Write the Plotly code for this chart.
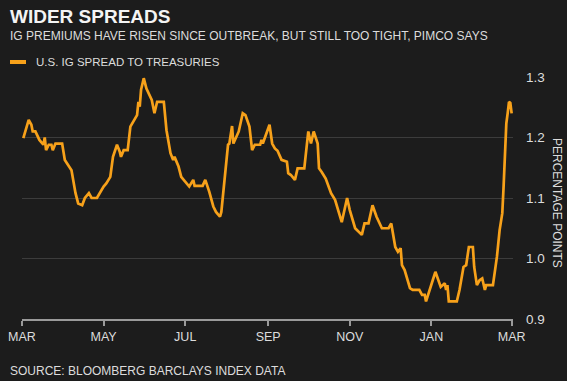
import pandas as pd
import plotly.graph_objects as go

# ---- data ----
start_date = "2019-03-01"
day_offsets = [1, 5, 7, 8, 10, 13, 16, 17, 18, 20, 22, 23, 25, 30, 32, 35, 37, 40, 42, 45,
               47, 50, 52, 56, 58, 61, 63, 66, 68, 71, 73, 74, 76, 79, 81, 83, 86, 87, 88, 89,
               91, 93, 94, 97, 99, 101, 106, 108, 111, 113, 114, 117, 119, 123, 125, 128, 129, 135, 137, 140,
               143, 145, 148, 149, 152, 154, 155, 157, 158, 160, 162, 165, 167, 170, 172, 174, 178, 179, 180, 185,
               187, 189, 191, 194, 198, 199, 201, 204, 206, 211, 214, 216, 218, 221, 222, 224, 227, 231, 234, 239,
               243, 245, 249, 254, 256, 259, 262, 265, 269, 274, 276, 279, 281, 283, 284, 286, 290, 292, 297, 299,
               301, 302, 305, 307, 309, 311, 313, 316, 317, 318, 319, 325, 327, 330, 332, 334, 337, 338, 340, 342,
               344, 346, 347, 352, 355, 357, 359, 360, 361, 362, 363, 364, 365, 366]
spread = [1.199, 1.229, 1.221, 1.21, 1.21, 1.196, 1.188, 1.20, 1.179, 1.188, 1.188, 1.179, 1.19, 1.19, 1.163, 1.152, 1.146, 1.108, 1.091, 1.088,
          1.10, 1.108, 1.10, 1.10, 1.108, 1.119, 1.124, 1.135, 1.168, 1.188, 1.177, 1.168, 1.179, 1.179, 1.218, 1.226, 1.237, 1.259, 1.251, 1.279,
          1.298, 1.281, 1.276, 1.262, 1.24, 1.259, 1.259, 1.212, 1.174, 1.163, 1.168, 1.152, 1.135, 1.124, 1.119, 1.13, 1.12, 1.12, 1.13, 1.11,
          1.086, 1.077, 1.069, 1.077, 1.146, 1.188, 1.19, 1.219, 1.19, 1.201, 1.21, 1.24, 1.237, 1.218, 1.179, 1.188, 1.188, 1.196, 1.19, 1.221,
          1.19, 1.182, 1.178, 1.163, 1.16, 1.141, 1.138, 1.13, 1.149, 1.149, 1.21, 1.19, 1.21, 1.19, 1.149, 1.143, 1.132, 1.108, 1.097, 1.06,
          1.10, 1.08, 1.05, 1.039, 1.058, 1.058, 1.088, 1.069, 1.05, 1.05, 1.058, 1.019, 1.011, 1.017, 0.989, 0.981, 0.951, 0.948, 0.948, 0.94,
          0.94, 0.929, 0.948, 0.964, 0.978, 0.964, 0.953, 0.959, 0.948, 0.956, 0.929, 0.929, 0.948, 0.986, 0.989, 1.019, 1.019, 0.986, 0.956, 0.964,
          0.967, 0.948, 0.956, 0.956, 1.003, 1.047, 1.075, 1.12, 1.163, 1.223, 1.24, 1.259, 1.257, 1.24]

x_tick_dates = ["2019-03-01", "2019-05-01", "2019-07-01", "2019-09-01", "2019-11-01", "2020-01-01", "2020-03-01"]
x_tick_labels = ["MAR", "MAY", "JUL", "SEP", "NOV", "JAN", "MAR"]
y_tick_values = [0.9, 1.0, 1.1, 1.2, 1.3]
y_tick_labels = ["0.9", "1.0", "1.1", "1.2", "1.3"]

title = "WIDER SPREADS"
subtitle = "IG PREMIUMS HAVE RISEN SINCE OUTBREAK, BUT STILL TOO TIGHT, PIMCO SAYS"
series_name = "U.S. IG SPREAD TO TREASURIES"
y_title = "PERCENTAGE POINTS"
source = "SOURCE: BLOOMBERG BARCLAYS INDEX DATA"

dates = pd.Timestamp(start_date) + pd.to_timedelta(day_offsets, unit="D")

# ---- layout constants ----
W, H = 567, 381
L, R, T, B = 22, 513, 77, 319
BG = "#1c1c1c"
ORANGE = "#f7a11a"
FONT = "Liberation Sans, Arial, sans-serif"
TXT = "#dcdcdc"


def px(xp):
    return (xp - L) / (R - L)


def py(yp):
    return (B - yp) / (B - T)


fig = go.Figure()
fig.add_trace(go.Scatter(x=dates, y=spread, mode="lines", name=series_name,
                         line=dict(color=ORANGE, width=2.7), showlegend=False))

fig.update_layout(
    width=W, height=H, autosize=False,
    margin=dict(l=L, r=W - R, t=T, b=H - B, pad=0, autoexpand=False),
    paper_bgcolor=BG, plot_bgcolor=BG,
    font=dict(family=FONT, color=TXT, size=12),
    xaxis=dict(
        range=["2019-03-01", "2020-03-02"],
        tickvals=x_tick_dates, ticktext=x_tick_labels,
        showgrid=False, zeroline=False, automargin=False,
        showline=True, linecolor="#9a9a9a", linewidth=1.5,
        ticks="outside", ticklen=5, tickwidth=1.5, tickcolor="#9a9a9a",
        tickfont=dict(size=12.5, color=TXT, family=FONT),
    ),
    yaxis=dict(
        range=[0.9, 1.3], side="right", automargin=False,
        tickvals=y_tick_values, ticktext=y_tick_labels,
        showgrid=True, gridcolor="#3c3c3c", gridwidth=1,
        zeroline=False, showline=False, ticks="",
        ticklabelstandoff=12,
        tickfont=dict(size=13.5, color=TXT, family=FONT),
    ),
)

annotations = [
    dict(text="<b>" + title + "</b>", x=px(8), y=py(16), xanchor="left", yanchor="middle",
         font=dict(size=19, color="#f4f4f4", family=FONT)),
    dict(text=subtitle, x=px(8), y=py(36), xanchor="left", yanchor="middle",
         font=dict(size=12, color=TXT, family=FONT)),
    dict(text=series_name, x=px(34), y=py(62), xanchor="left", yanchor="middle",
         font=dict(size=11.5, color=TXT, family=FONT)),
    dict(text=y_title, x=px(557), y=py(203), xanchor="center", yanchor="middle",
         textangle=90, font=dict(size=12, color=TXT, family=FONT)),
    dict(text=source, x=px(8), y=py(371), xanchor="left", yanchor="middle",
         font=dict(size=12, color=TXT, family=FONT)),
]
for a in annotations:
    a.update(xref="paper", yref="paper", showarrow=False)
fig.update_layout(annotations=annotations)

# legend swatch
fig.add_shape(type="line", xref="paper", yref="paper",
              x0=px(10), x1=px(26), y0=py(62), y1=py(62),
              line=dict(color=ORANGE, width=4))

fig.write_html("out.html", config={"responsive": False, "displayModeBar": False},
               post_script="document.body.style.margin='0';document.body.style.overflow='hidden';")
